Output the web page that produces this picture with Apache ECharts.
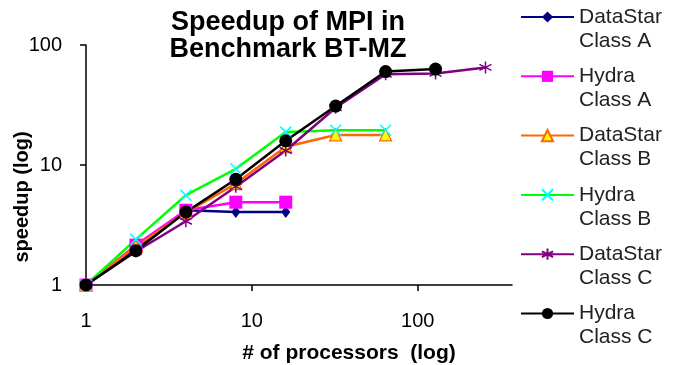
<!DOCTYPE html>
<html>
<head>
<meta charset="utf-8">
<script src="https://cdn.jsdelivr.net/npm/echarts@6/dist/echarts.min.js"></script>
<style>
html,body{margin:0;padding:0;background:#fff;}
#chart{width:678px;height:365px;}
</style>
</head>
<body>
<div id="chart"></div>
<script>
const procs = [1, 2, 4, 8, 16, 32, 64, 128, 256];
const seriesNames = ['DataStar\nClass A', 'Hydra\nClass A', 'DataStar\nClass B', 'Hydra\nClass B', 'DataStar\nClass C', 'Hydra\nClass C'];
const datastarA = [1, 2.0, 4.2, 4.05, 4.05];
const hydraA = [1, 2.15, 4.2, 4.9, 4.9];
const datastarB = [1, 2.1, 4.0, 7.0, 14.2, 17.8, 17.8];
const hydraB = [1, 2.4, 5.6, 9.3, 18.8, 19.5, 19.5];
const datastarC = [1, 1.9, 3.4, 6.6, 13.2, 30, 57, 58, 65];
const hydraC = [1, 1.93, 4.05, 7.6, 15.9, 31, 60, 63];
const xTicks = [1, 10, 100];
const yTicks = [1, 10, 100];

const FONT = 'Arial, "Liberation Sans", sans-serif';
const pair = vals => vals.map((v, i) => [procs[i], v]);

const xPath = 'path://M0,0L10,10M10,0L0,10';
const starPath = 'path://M5,0L5,10M0.7,2.5L9.3,7.5M0.7,7.5L9.3,2.5';

function mk(name, vals, lineColor, symbol, size, fill, border, bw) {
  return {
    name: name,
    type: 'line',
    data: pair(vals),
    symbol: symbol,
    symbolSize: size,
    showAllSymbol: true,
    lineStyle: { color: lineColor, width: 2.5 },
    itemStyle: { color: fill, borderColor: border, borderWidth: bw },
    emphasis: { disabled: true },
    animation: false
  };
}

const series = [
  mk(seriesNames[0], datastarA, '#000080', 'diamond', [9, 12], '#000080', '#000080', 0),
  mk(seriesNames[1], hydraA, '#FF00FF', 'rect', 13, '#FF00FF', '#FF00FF', 0),
  mk(seriesNames[2], datastarB, '#FF6600', 'triangle', 12, '#FFFF00', '#FF6600', 1.2),
  mk(seriesNames[3], hydraB, '#00FF00', xPath, 11, 'rgba(0,0,0,0)', '#00FFFF', 1.5),
  mk(seriesNames[4], datastarC, '#800080', starPath, 12, 'rgba(0,0,0,0)', '#800080', 1.5),
  mk(seriesNames[5], hydraC, '#000000', 'circle', 13, '#000000', '#000000', 0)
];

const chart = echarts.init(document.getElementById('chart'), null, { renderer: 'canvas' });
chart.setOption({
  animation: false,
  backgroundColor: '#ffffff',
  title: {
    text: 'Speedup of MPI in\nBenchmark BT-MZ',
    left: 288,
    top: 9,
    padding: 0,
    textAlign: 'center',
    textStyle: { fontFamily: FONT, fontSize: 27, fontWeight: 'bold', color: '#000', lineHeight: 27 }
  },
  legend: {
    orient: 'vertical',
    left: 520,
    top: -19,
    padding: 0,
    itemGap: -12.7,
    itemWidth: 53,
    itemHeight: 14,
    selectedMode: false,
    data: seriesNames,
    formatter: name => '\n' + name,
    textStyle: { fontFamily: FONT, fontSize: 21, color: '#222', lineHeight: 24 }
  },
  grid: { left: 86, top: 45, right: 166, bottom: 80, containLabel: false, outerBoundsMode: 'none' },
  xAxis: {
    type: 'log',
    logBase: 10,
    min: 1,
    max: 370,
    name: '# of processors  (log)',
    nameLocation: 'middle',
    nameGap: 58,
    nameTextStyle: { fontFamily: FONT, fontSize: 21, fontWeight: 'bold', color: '#000', padding: [0, 0, 0, 100] },
    axisLine: { lineStyle: { color: '#000', width: 1.5 } },
    axisTick: { inside: false, length: 6, lineStyle: { color: '#000', width: 1.5 }, customValues: xTicks },
    axisLabel: { fontFamily: FONT, fontSize: 20, color: '#000', margin: 26, customValues: xTicks, formatter: v => String(Math.round(v)) },
    splitLine: { show: false }
  },
  yAxis: {
    type: 'log',
    logBase: 10,
    min: 1,
    max: 100,
    name: 'speedup (log)',
    nameLocation: 'middle',
    nameGap: 54,
    nameMoveOverlap: false,
    nameTextStyle: { fontFamily: FONT, fontSize: 20, fontWeight: 'bold', color: '#000', padding: [0, 64, 0, 0] },
    axisLine: { show: true, lineStyle: { color: '#000', width: 1.5 } },
    axisTick: { show: true, inside: false, length: 6, lineStyle: { color: '#000', width: 1.5 }, customValues: yTicks },
    axisLabel: { fontFamily: FONT, fontSize: 20, color: '#000', margin: 24, customValues: yTicks, formatter: v => String(Math.round(v)) },
    splitLine: { show: false }
  },
  series: series
});
</script>
</body>
</html>
